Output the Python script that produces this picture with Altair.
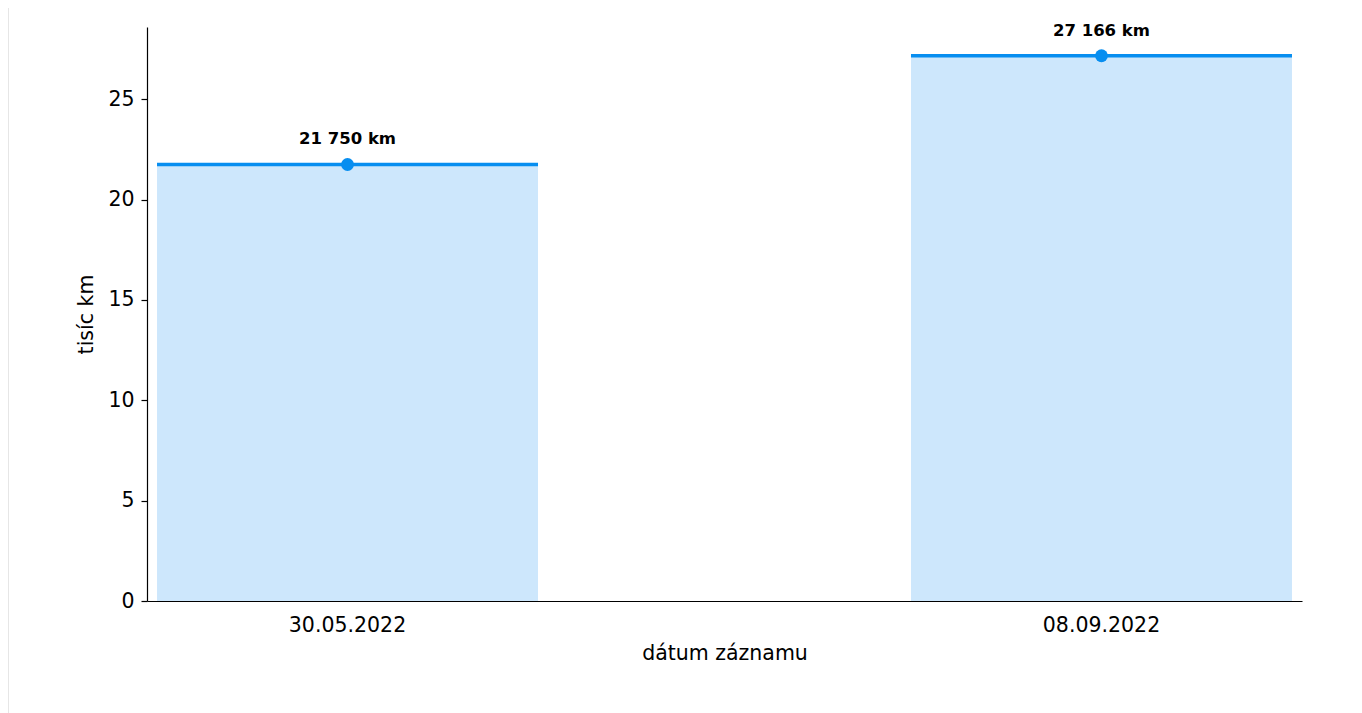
import altair as alt
import pandas as pd

dates = ["30.05.2022", "08.09.2022"]
values = [21.750, 27.166]
labels = ["21 750 km", "27 166 km"]

df = pd.DataFrame({"date": dates, "value": values, "label": labels})

LINE = "#078ef0"
FILL = "#cde7fc"
FONT = "DejaVu Sans"

x = alt.X(
    "date:N",
    sort=dates,
    title="dátum záznamu",
    scale=alt.Scale(paddingInner=0.4947, paddingOuter=0.0133),
    axis=alt.Axis(labelAngle=0, ticks=False, labelPadding=14, titlePadding=8,
                  domainColor="black", labelColor="black", titleColor="black",
                  labelFontSize=20.5, titleFontSize=20.5, titleFontWeight="normal",
                  labelFont=FONT, titleFont=FONT),
)
y = alt.Y(
    "value:Q",
    title="tisíc km",
    scale=alt.Scale(domain=[0, 28.6], nice=False, zero=True),
    axis=alt.Axis(values=[0, 5, 10, 15, 20, 25], grid=False, tickSize=6,
                  tickColor="black", domainColor="black", labelColor="black",
                  titleColor="black", labelPadding=7, titlePadding=11,
                  labelFontSize=20.5, titleFontSize=20.5, titleFontWeight="normal",
                  labelFont=FONT, titleFont=FONT),
)

base = alt.Chart(df)
bars = base.mark_bar(color=FILL).encode(x=x, y=y)
tops = base.mark_tick(color=LINE, thickness=3.5, size=381, orient="horizontal", opacity=1).encode(x=x, y=y)
dots = base.mark_circle(color=LINE, size=165, opacity=1).encode(x=x, y=y)
text = base.mark_text(font=FONT, fontSize=16.5, fontWeight="bold", color="black", dy=-25).encode(
    x=x, y=y, text="label:N")

frame = alt.Chart(df).mark_rule(color="#e6e6e6", strokeWidth=2, clip=False).encode(
    x=alt.value(-139), y=alt.value(-19), y2=alt.value(720))

chart = (frame + bars + tops + dots + text).properties(
    width=1155, height=574,
    autosize=alt.AutoSizeParams(type="none"),
    padding={"left": 139, "top": 19, "right": 40, "bottom": 130},
).configure_view(stroke=None).configure_axis(domainWidth=1.2, tickWidth=1.2)

chart.save("out.html", embed_options={"renderer": "svg", "actions": False})
